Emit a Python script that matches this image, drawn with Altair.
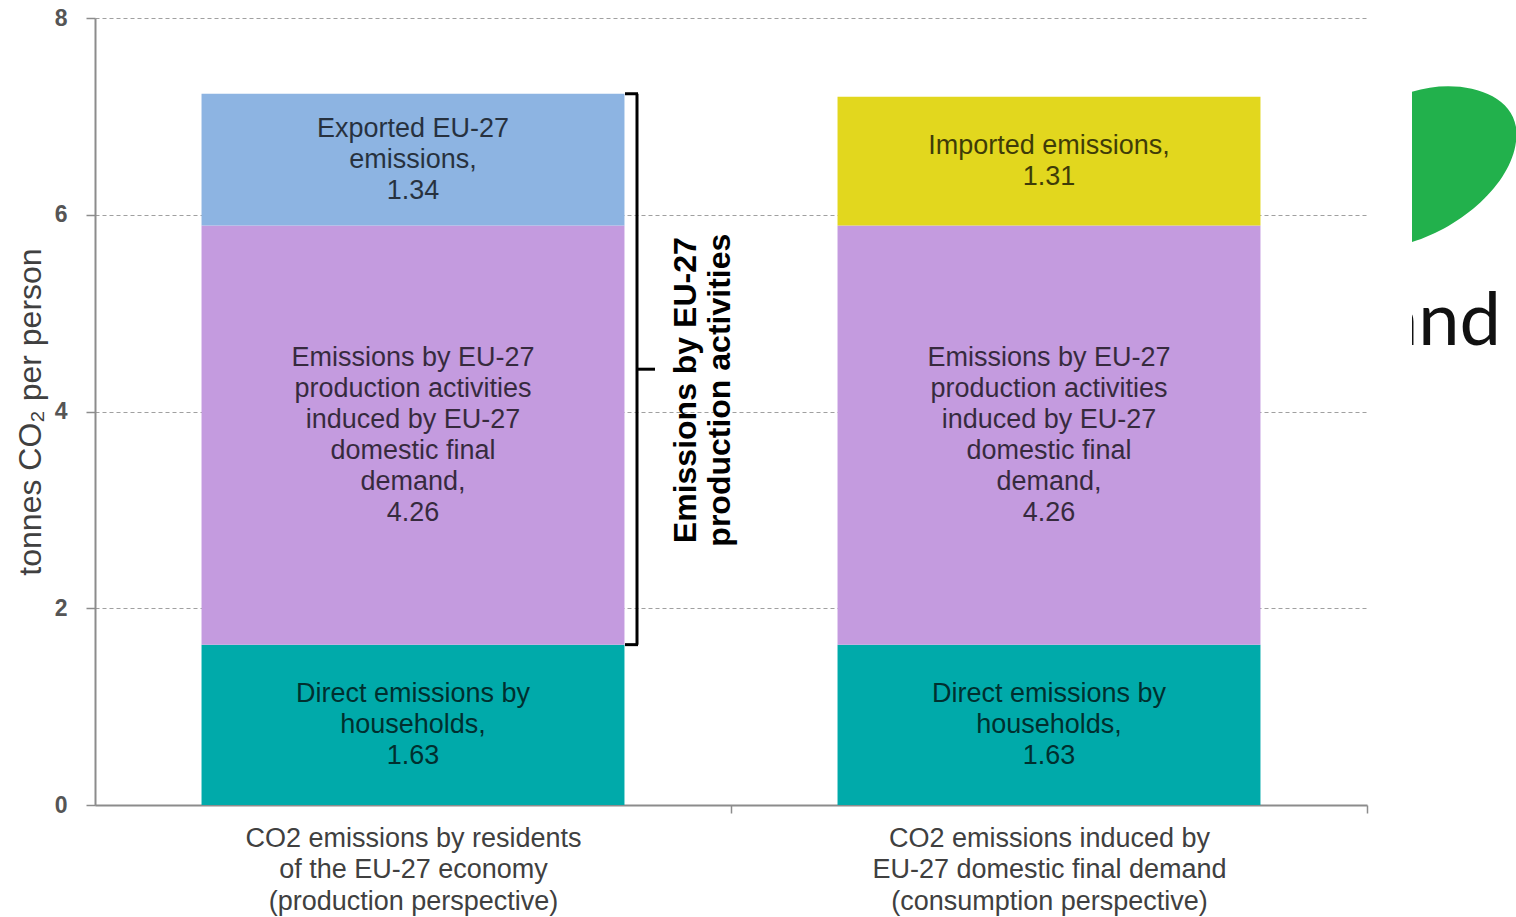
import altair as alt
import pandas as pd

# ---------------- data ----------------
categories = [
    "CO2 emissions by residents|of the EU-27 economy|(production perspective)",
    "CO2 emissions induced by|EU-27 domestic final demand|(consumption perspective)",
]
components = ["Direct", "Production", "Exported", "Imported"]
component_colors = ["#00AAAA", "#C49BDF", "#8DB4E2", "#E2D71E"]

bar1_components = ["Direct", "Production", "Exported"]
bar1_values = [1.63, 4.26, 1.34]
bar1_labels = [
    ["Direct  emissions by", "households,", "1.63"],
    ["Emissions by EU-27", "production  activities", "induced  by EU-27", "domestic final", "demand,", "4.26"],
    ["Exported EU-27", "emissions,", "1.34"],
]

bar2_components = ["Direct", "Production", "Imported"]
bar2_values = [1.63, 4.26, 1.31]
bar2_labels = [
    ["Direct  emissions by", "households,", "1.63"],
    ["Emissions by EU-27", "production  activities", "induced  by EU-27", "domestic final", "demand,", "4.26"],
    ["Imported  emissions,", "1.31"],
]

bracket_text = ["Emissions by EU-27", "production activities"]
y_ticks = [0, 2, 4, 6, 8]

# ---------------- tables ----------------
rows = []
for cat, comps, vals, labs in [
    (categories[0], bar1_components, bar1_values, bar1_labels),
    (categories[1], bar2_components, bar2_values, bar2_labels),
]:
    base = 0.0
    for i, (c, v, l) in enumerate(zip(comps, vals, labs)):
        rows.append({"category": cat, "component": c, "order": i, "nlines": len(l),
                     "y0": base, "y1": base + v, "mid": base + v / 2, "label": l})
        base += v
df = pd.DataFrame(rows)

low = bar1_values[0]
high = sum(bar1_values)
bracket = pd.DataFrame([{"low": low, "high": high, "mid": (low + high) / 2,
                         "text": bracket_text}])
dummy = pd.DataFrame([{"k": 0}])

FONT = "Liberation Sans"
GRAY = "#8c8c8c"
LINE_H = 31

xscale = alt.Scale(domain=categories, paddingInner=0.335, paddingOuter=0.1675)
yscale = alt.Scale(domain=[0, 8], nice=False)

xaxis = alt.Axis(title=None, labelAngle=0,
                 labelExpr="split(datum.label, '|')",
                 labelFont=FONT, labelFontSize=27, labelLineHeight=31.5,
                 labelColor="#404040", labelLimit=800,
                 labelPadding=12, labelOffset=-318,
                 domainColor=GRAY, domainWidth=2,
                 tickColor=GRAY, tickWidth=1.5, tickSize=8, tickOffset=318)
yaxis = alt.Axis(values=y_ticks, title="tonnes CO₂ per person",
                 titleFont=FONT, titleFontSize=32, titleFontWeight="normal",
                 titleColor="#404040", titleAngle=270,
                 titleX=-65, titleY=393.5, titleAlign="center",
                 titleBaseline="middle",
                 labelFont=FONT, labelFontSize=23, labelFontWeight="bold",
                 labelColor="#555555", labelPadding=19,
                 grid=True, gridDash=[4, 3], gridColor="#a0a0a0", gridWidth=1.2,
                 domainColor=GRAY, domainWidth=2,
                 tickColor=GRAY, tickWidth=1.5, tickSize=9)

X = alt.X("category:N", scale=xscale, sort=categories, axis=xaxis)

bars = alt.Chart(df).mark_bar().encode(
    x=X,
    y=alt.Y("y0:Q", scale=yscale, axis=yaxis),
    y2="y1:Q",
    color=alt.Color("component:N", scale=alt.Scale(domain=components, range=component_colors),
                    legend=None),
)

# multi-line labels: first line sits on the anchor, so shift each block up by half its height
label_layers = []
for n in sorted(df["nlines"].unique()):
    label_layers.append(
        alt.Chart(df).transform_filter(alt.datum.nlines == int(n)).mark_text(
            font=FONT, fontSize=27, lineHeight=LINE_H, color="#000000", opacity=0.72,
            align="center", baseline="middle", dy=-(int(n) - 1) * LINE_H / 2
        ).encode(
            x=X,
            y=alt.Y("mid:Q", scale=yscale, axis=yaxis),
            text="label",
        )
    )

rule_style = dict(color="#000000", strokeWidth=3)
br_vert = alt.Chart(bracket).mark_rule(**rule_style).encode(
    x=alt.value(542), y=alt.Y("low:Q", scale=yscale, axis=yaxis), y2="high:Q")
br_low = alt.Chart(bracket).mark_rule(**rule_style).encode(
    x=alt.value(530), x2=alt.value(543), y=alt.Y("low:Q", scale=yscale, axis=yaxis))
br_high = alt.Chart(bracket).mark_rule(**rule_style).encode(
    x=alt.value(530), x2=alt.value(543), y=alt.Y("high:Q", scale=yscale, axis=yaxis))
br_mid = alt.Chart(bracket).mark_rule(**rule_style).encode(
    x=alt.value(542), x2=alt.value(560), y=alt.Y("mid:Q", scale=yscale, axis=yaxis))
br_text = alt.Chart(bracket).mark_text(
    font=FONT, fontSize=32, fontWeight="bold", lineHeight=34, color="#000000",
    angle=270, align="center", baseline="middle", dx=-21
).encode(x=alt.value(591), y=alt.Y("mid:Q", scale=yscale, axis=yaxis), text="text")

# slide remnants at the right edge (a clipped green shape and the word "and")
leaf_path = "M -1 -0.95 C -0.4 -1.15 0.45 -0.95 0.35 -0.3 C 0.28 0.25 -0.35 0.8 -1 1 Z"
blob = alt.Chart(dummy).mark_point(
    shape=leaf_path, filled=True, size=23716, color="#22B14C", opacity=1, strokeWidth=0
).encode(x=alt.value(1394), y=alt.value(147))
word = alt.Chart(dummy).mark_text(
    font="Lato", fontSize=74, color="#111111", align="right", baseline="alphabetic"
).encode(x=alt.value(1406), y=alt.value(327), text=alt.value("and"))
mask = alt.Chart(dummy).mark_rect(color="#ffffff").encode(
    x=alt.value(1274), x2=alt.value(1317), y=alt.value(250), y2=alt.value(345))

chart = alt.layer(
    bars, *label_layers, br_vert, br_low, br_high, br_mid, br_text, blob, word, mask
).properties(
    width=1272, height=787,
    autosize=alt.AutoSizeParams(type="none"),
    padding={"left": 95, "top": 18, "right": 149, "bottom": 112},
    background="#ffffff",
).configure_view(stroke=None)

chart.save("out.html", embed_options={"renderer": "svg", "actions": False})
